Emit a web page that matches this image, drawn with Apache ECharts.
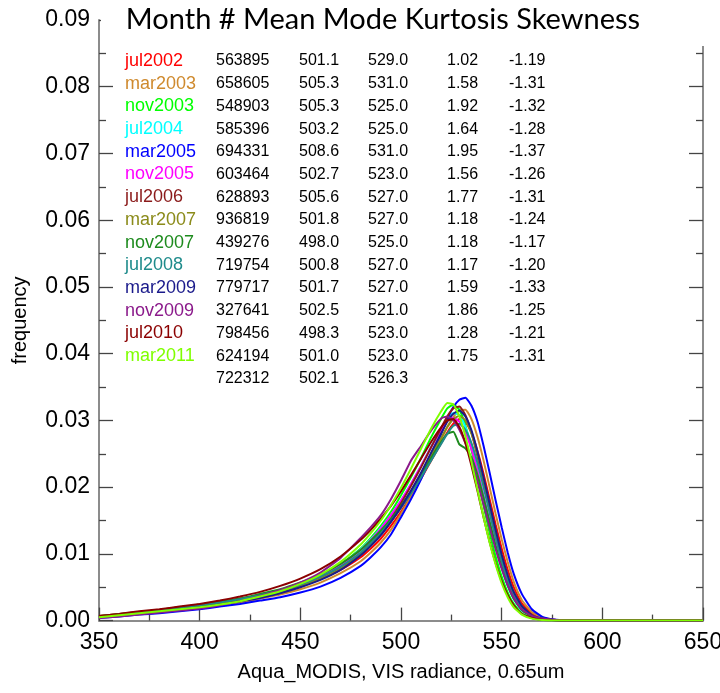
<!DOCTYPE html>
<html><head><meta charset="utf-8">
<script src="https://cdn.jsdelivr.net/npm/echarts@6/dist/echarts.min.js"></script>
<style>html,body{margin:0;padding:0;background:#fff}#c{width:720px;height:693px}</style>
</head><body><div id="c"></div><script>
// radiance grid (x values)
const xs = [350,360,370,380,390,400,410,420,430,440,450,460,470,480,485,490,495,500,505,510,515,520,523,526,529,532,535,538,541,544,547,550,553,556,560,565,570,575,580,590,600,650];

const months = ['jul2002','mar2003','nov2003','jul2004','mar2005','nov2005','jul2006','mar2007','nov2007','jul2008','mar2009','nov2009','jul2010','mar2011'];
const colors = ['#ff0000','#cf8a2e','#00ff00','#00ffff','#0000ff','#ff00ff','#8b1a1a','#8b8b1a','#1e8b1e','#1e8b8b','#1a1a8b','#8b1a8b','#8b0000','#7fff00'];
const counts = ['563895','658605','548903','585396','694331','603464','628893','936819','439276','719754','779717','327641','798456','624194','722312'];
const means  = ['501.1','505.3','505.3','503.2','508.6','502.7','505.6','501.8','498.0','500.8','501.7','502.5','498.3','501.0','502.1'];
const modes  = ['529.0','531.0','525.0','525.0','531.0','523.0','527.0','527.0','525.0','527.0','527.0','521.0','523.0','523.0','526.3'];
const kurts  = ['1.02','1.58','1.92','1.64','1.95','1.56','1.77','1.18','1.18','1.17','1.59','1.86','1.28','1.75'];
const skews  = ['-1.19','-1.31','-1.32','-1.28','-1.37','-1.26','-1.31','-1.24','-1.17','-1.20','-1.33','-1.25','-1.21','-1.31'];
const yTicks = ['0.00','0.01','0.02','0.03','0.04','0.05','0.06','0.07','0.08','0.09'];

const jul2002 = [0.0007,0.0010,0.0013,0.0016,0.0020,0.0024,0.0028,0.0033,0.0038,0.0045,0.0053,0.0063,0.0076,0.0095,0.0108,0.0123,0.0142,0.0163,0.0187,0.0213,0.0240,0.0266,0.0282,0.0295,0.0302,0.0298,0.0282,0.0254,0.0220,0.0182,0.0144,0.0108,0.0076,0.0050,0.0026,0.0010,0.0004,0.00015,0.00005,0.00001,0,0];
const mar2003 = [0.0005,0.0007,0.0010,0.0013,0.0016,0.0019,0.0023,0.0027,0.0033,0.0039,0.0047,0.0057,0.0071,0.0089,0.0102,0.0117,0.0136,0.0160,0.0186,0.0214,0.0244,0.0272,0.0290,0.0305,0.0315,0.0316,0.0302,0.0275,0.0240,0.0200,0.0160,0.0122,0.0088,0.0058,0.0031,0.0013,0.0005,0.00018,0.00006,0.00001,0,0];
const nov2003 = [0.0005,0.0008,0.0011,0.0014,0.0017,0.0020,0.0024,0.0029,0.0035,0.0043,0.0053,0.0066,0.0084,0.0108,0.0124,0.0142,0.0163,0.0188,0.0215,0.0244,0.0275,0.0303,0.0318,0.0324,0.0316,0.0292,0.0256,0.0214,0.0172,0.0132,0.0096,0.0066,0.0042,0.0025,0.0011,0.0004,0.00012,0.00004,0.00001,0,0,0];
const jul2004 = [0.0006,0.0009,0.0012,0.0015,0.0018,0.0021,0.0025,0.0030,0.0036,0.0044,0.0054,0.0067,0.0084,0.0107,0.0122,0.0139,0.0158,0.0180,0.0205,0.0232,0.0261,0.0288,0.0302,0.0311,0.0308,0.0290,0.0262,0.0226,0.0187,0.0148,0.0112,0.0079,0.0052,0.0032,0.0015,0.0006,0.0002,0.00007,0.00002,0,0,0];
const mar2005 = [0.0004,0.0006,0.0009,0.0011,0.0014,0.0017,0.0021,0.0025,0.0030,0.0035,0.0042,0.0051,0.0064,0.0082,0.0095,0.0110,0.0129,0.0155,0.0182,0.0212,0.0245,0.0280,0.0302,0.0320,0.0331,0.0334,0.0322,0.0298,0.0262,0.0222,0.0180,0.0140,0.0102,0.0070,0.0040,0.0017,0.0006,0.0002,0.00007,0.00001,0,0];
const nov2005 = [0.0005,0.0008,0.0011,0.0014,0.0017,0.0020,0.0024,0.0029,0.0035,0.0043,0.0053,0.0066,0.0083,0.0106,0.0121,0.0138,0.0158,0.0180,0.0205,0.0232,0.0260,0.0286,0.0300,0.0304,0.0298,0.0282,0.0257,0.0224,0.0186,0.0148,0.0112,0.0080,0.0053,0.0033,0.0016,0.0006,0.0002,0.00007,0.00002,0,0,0];
const jul2006 = [0.0005,0.0008,0.0011,0.0014,0.0017,0.0020,0.0024,0.0029,0.0035,0.0042,0.0051,0.0063,0.0079,0.0101,0.0116,0.0133,0.0153,0.0176,0.0202,0.0230,0.0260,0.0289,0.0306,0.0318,0.0321,0.0308,0.0282,0.0246,0.0206,0.0165,0.0126,0.0091,0.0061,0.0038,0.0019,0.0007,0.00025,0.0001,0.00003,0.00001,0,0];
const mar2007 = [0.0006,0.0009,0.0012,0.0015,0.0019,0.0022,0.0026,0.0031,0.0037,0.0044,0.0052,0.0063,0.0078,0.0099,0.0113,0.0129,0.0148,0.0170,0.0194,0.0220,0.0248,0.0274,0.0290,0.0302,0.0307,0.0300,0.0280,0.0249,0.0212,0.0173,0.0134,0.0098,0.0067,0.0043,0.0022,0.0008,0.0003,0.0001,0.00003,0.00001,0,0];
const nov2007 = [0.0007,0.0010,0.0013,0.0016,0.0020,0.0024,0.0028,0.0033,0.0040,0.0047,0.0057,0.0069,0.0085,0.0106,0.0120,0.0135,0.0152,0.0172,0.0194,0.0218,0.0244,0.0268,0.0280,0.0283,0.0264,0.0258,0.0244,0.0218,0.0184,0.0148,0.0112,0.0080,0.0053,0.0033,0.0016,0.0006,0.0002,0.00007,0.00002,0,0,0];
const jul2008 = [0.0006,0.0009,0.0012,0.0016,0.0019,0.0023,0.0027,0.0032,0.0038,0.0045,0.0054,0.0066,0.0081,0.0102,0.0116,0.0131,0.0149,0.0169,0.0191,0.0215,0.0240,0.0265,0.0280,0.0292,0.0295,0.0286,0.0266,0.0236,0.0200,0.0162,0.0124,0.0090,0.0061,0.0039,0.0019,0.0007,0.00025,0.0001,0.00003,0.00001,0,0];
const mar2009 = [0.0005,0.0008,0.0011,0.0014,0.0017,0.0020,0.0024,0.0029,0.0034,0.0041,0.0050,0.0061,0.0076,0.0098,0.0112,0.0128,0.0148,0.0170,0.0195,0.0222,0.0252,0.0281,0.0298,0.0310,0.0315,0.0306,0.0285,0.0253,0.0215,0.0175,0.0136,0.0099,0.0068,0.0043,0.0022,0.0008,0.0003,0.0001,0.00003,0.00001,0,0];
const nov2009 = [0.0004,0.0006,0.0009,0.0012,0.0015,0.0018,0.0023,0.0029,0.0037,0.0046,0.0057,0.0072,0.0094,0.0124,0.0140,0.0158,0.0182,0.0210,0.0240,0.0262,0.0285,0.0303,0.0306,0.0300,0.0286,0.0266,0.0240,0.0208,0.0174,0.0140,0.0107,0.0078,0.0053,0.0034,0.0017,0.0007,0.0003,0.00012,0.00005,0.00002,0,0];
const jul2010 = [0.0007,0.0010,0.0014,0.0017,0.0021,0.0025,0.0030,0.0036,0.0043,0.0052,0.0063,0.0077,0.0096,0.0121,0.0136,0.0153,0.0172,0.0194,0.0218,0.0243,0.0268,0.0290,0.0300,0.0302,0.0290,0.0266,0.0232,0.0194,0.0155,0.0118,0.0086,0.0059,0.0038,0.0023,0.0010,0.0004,0.00012,0.00004,0.00001,0,0,0];
const mar2011 = [0.0005,0.0008,0.0011,0.0014,0.0017,0.0020,0.0024,0.0029,0.0036,0.0044,0.0055,0.0069,0.0088,0.0114,0.0131,0.0150,0.0173,0.0199,0.0228,0.0258,0.0288,0.0314,0.0326,0.0324,0.0306,0.0276,0.0238,0.0196,0.0155,0.0117,0.0084,0.0056,0.0035,0.0020,0.0009,0.0003,0.0001,0.00003,0.00001,0,0,0];

const seriesValues = [jul2002,mar2003,nov2003,jul2004,mar2005,nov2005,jul2006,mar2007,nov2007,jul2008,mar2009,nov2009,jul2010,mar2011];

const chart = echarts.init(document.getElementById('c'), null, {renderer:'canvas'});
const font = '"Liberation Sans", Arial, Helvetica, sans-serif';
const axisLineStyle = {color:'#8c8c8c', width:2};
const tickStyle = {color:'#444', width:1.3};

const series = seriesValues.map((vals,i)=>({
  name: months[i], type:'line', showSymbol:false, smooth:0.15,
  data: vals.map((v,j)=>[xs[j], v]),
  lineStyle:{color:colors[i], width:2}, itemStyle:{color:colors[i]}, z:3
}));

const graphics = [];
graphics.push({type:'rect', z:100, shape:{x:101, y:0, width:619, height:46}, style:{fill:'#fff'}});
graphics.push({type:'text', z:101, style:{text:'Month # Mean Mode Kurtosis Skewness', x:383, y:20, textAlign:'center', textVerticalAlign:'middle', font:'29px Lato, "Open Sans", sans-serif', fill:'#000'}});
const row0 = 61, rowH = 22.7;
for (let i=0;i<15;i++){
  const y = row0 + i*rowH;
  if (i<14) graphics.push({type:'text', z:101, style:{text:months[i], x:125, y:y, textVerticalAlign:'middle', font:'18px '+font, fill:colors[i]}});
  graphics.push({type:'text', z:101, style:{text:counts[i], x:216, y:y, textVerticalAlign:'middle', font:'16px '+font, fill:'#000'}});
  graphics.push({type:'text', z:101, style:{text:means[i], x:299, y:y, textVerticalAlign:'middle', font:'16px '+font, fill:'#000'}});
  graphics.push({type:'text', z:101, style:{text:modes[i], x:368, y:y, textVerticalAlign:'middle', font:'16px '+font, fill:'#000'}});
  if (i<14) {
    graphics.push({type:'text', z:101, style:{text:kurts[i], x:447, y:y, textVerticalAlign:'middle', font:'16px '+font, fill:'#000'}});
    graphics.push({type:'text', z:101, style:{text:skews[i], x:509, y:y, textVerticalAlign:'middle', font:'16px '+font, fill:'#000'}});
  }
}

const yAxisBase = {
  type:'value', min:0, max:0.09, interval:0.01,
  axisLine:{show:true, lineStyle:axisLineStyle},
  axisTick:{show:true, inside:true, length:14, lineStyle:tickStyle},
  minorTick:{show:true, splitNumber:2, length:7, lineStyle:tickStyle},
  splitLine:{show:false}, minorSplitLine:{show:false}
};

chart.setOption({
  animation:false,
  backgroundColor:'#fff',
  grid:{left:99, right:17, top:20, bottom:72.4, containLabel:false, outerBoundsMode:'none'},
  xAxis:{
    type:'value', min:350, max:650, interval:50,
    name:'Aqua_MODIS, VIS radiance, 0.65um', nameLocation:'middle', nameGap:42,
    nameTextStyle:{fontSize:20, color:'#000', fontFamily:font},
    axisLine:{show:true, onZero:false, lineStyle:axisLineStyle},
    axisTick:{show:true, inside:true, length:13, lineStyle:tickStyle},
    minorTick:{show:true, splitNumber:2, length:6, lineStyle:tickStyle},
    axisLabel:{fontSize:23, color:'#000', fontFamily:font, margin:11},
    splitLine:{show:false}
  },
  yAxis:[
    Object.assign({}, yAxisBase, {
      position:'left', name:'frequency', nameLocation:'middle', nameGap:69, nameRotate:90,
      nameTextStyle:{fontSize:20, color:'#000', fontFamily:font},
      axisLabel:{fontSize:23, color:'#000', fontFamily:font, margin:9, formatter:(v)=>yTicks[Math.round(v*100)]}
    }),
    Object.assign({}, yAxisBase, {position:'right', axisLabel:{show:false}})
  ],
  series: series,
  graphic: graphics
});
</script></body></html>
